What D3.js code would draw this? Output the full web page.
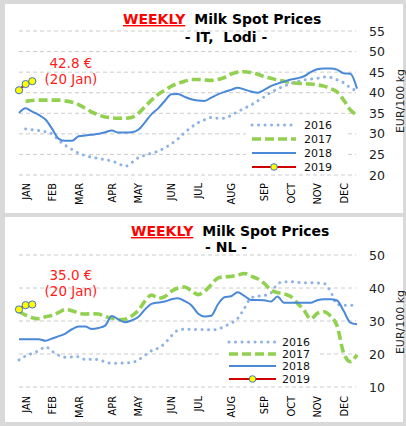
<!DOCTYPE html>
<html>
<head>
<meta charset="utf-8">
<script src="https://cdn.jsdelivr.net/npm/d3@7"></script>
<style>
  body { margin: 0; background: #d9d9d9; }
  svg { display: block; font-family: "DejaVu Sans", Verdana, sans-serif; }
</style>
</head>
<body>
<svg id="chart" width="406" height="426"></svg>
<script>
// data (EUR/100 kg, week 1..52)
const years = ["2016", "2017", "2018", "2019"];
const monthLabels = ["JAN", "FEB", "MAR", "APR", "MAY", "JUN", "JUL", "AUG", "SEP", "OCT", "NOV", "DEC"];
const monthWeeks = [2, 6, 10, 15, 19, 24, 28, 33, 38, 42, 46, 50];

const itTicks = [20, 25, 30, 35, 40, 45, 50, 55];
const nlTicks = [10, 20, 30, 40, 50];

const it2016 = [null, 31.2, 31.0, 30.8, 30.5, 30.0, 28.4, 27.2, 26.2, 25.3,
  24.7, 24.3, 24.0, 23.7, 23.4, 22.8, 22.1, 23.0, 24.2, 24.8,
  25.3, 25.8, 26.6, 27.6, 28.8, 30.3, 31.6, 32.7, 33.4, 34.0,
  33.8, 33.8, 34.5, 35.4, 36.2, 37.0, 38.0, 39.0, 40.1, 40.9,
  41.6, 42.2, 42.7, 43.1, 43.3, 43.5, 43.8, 43.7, 43.1, 42.4, 41.2, 40.4];
const it2017 = [null, 37.9, 38.1, 38.2, 38.2, 38.2, 38.2, 38.0, 37.7, 37.1,
  36.2, 35.3, 34.6, 34.1, 33.9, 33.8, 33.8, 34.0, 35.0, 36.6,
  38.2, 39.6, 40.6, 41.6, 42.3, 42.8, 43.2, 43.2, 43.1, 43.0,
  43.2, 43.7, 44.5, 45.0, 45.1, 44.9, 44.5, 43.9, 43.5, 43.1,
  42.8, 42.5, 42.3, 42.2, 42.1, 41.9, 41.6, 41.0, 40.2, 38.2, 35.8, 34.6];
const it2018 = [35.1, 36.2, 35.4, 34.6, 33.5, 31.2, 28.8, 28.3, 28.3, 29.4,
  29.6, 29.8, 30.0, 30.4, 30.8, 30.3, 30.3, 30.4, 31.0, 32.8,
  34.8, 36.2, 38.0, 39.6, 39.7, 39.0, 38.4, 38.1, 38.0, 38.8,
  39.6, 40.2, 40.7, 41.2, 40.8, 40.3, 40.0, 40.7, 41.6, 42.2,
  42.7, 43.2, 43.5, 44.0, 45.0, 45.7, 45.9, 45.9, 45.6, 44.7, 44.6, 41.0];
const it2019 = [40.6, 42.1, 42.8];

const nl2016 = [18.2, 19.4, 20.2, 21.0, 22.2, 20.8, 19.6, 19.0, 19.1, 19.2,
  18.3, 18.4, 18.3, 17.6, 17.2, 17.2, 17.3, 17.4, 18.2, 19.6,
  21.0, 21.8, 23.2, 25.5, 27.2, 27.5, 27.5, 27.4, 27.4, 27.3,
  27.5, 28.4, 29.3, 30.8, 33.8, 37.0, 37.5, 37.7, 38.5, 41.2,
  41.9, 41.9, 41.7, 41.6, 41.6, 41.5, 41.4, 39.0, 35.0, 34.8, 34.8, 34.8];
const nl2017 = [32.8, 31.8, 31.0, 30.7, 31.3, 31.7, 32.6, 33.5, 33.1, 32.4,
  32.1, 32.2, 32.1, 31.3, 30.9, 30.4, 30.5, 31.5, 33.2, 36.0,
  37.9, 36.9, 37.4, 39.0, 40.0, 40.3, 39.2, 38.0, 39.0, 41.0,
  43.0, 43.4, 43.5, 43.9, 44.4, 43.6, 42.8, 41.4, 39.4, 38.6,
  38.2, 37.4, 35.4, 33.3, 30.6, 32.3, 32.8, 31.5, 28.5, 20.2, 17.7, 19.8];
const nl2018 = [24.5, 24.5, 24.5, 24.5, 24.0, 24.7, 25.4, 26.2, 27.5, 28.3,
  28.3, 27.6, 27.9, 28.6, 31.5, 30.5, 29.6, 30.2, 31.2, 33.5,
  35.2, 35.6, 35.9, 36.6, 36.9, 36.0, 34.8, 32.3, 31.4, 31.6,
  35.0, 37.2, 37.5, 38.7, 37.6, 36.4, 36.4, 36.3, 35.9, 37.4,
  35.5, 35.5, 35.5, 35.5, 35.5, 36.3, 36.6, 36.6, 36.2, 33.0, 29.5, 29.0];
const nl2019 = [33.5, 34.8, 35.0];

const colors = { "2016": "#8fb4e3", "2017": "#92d050", "2018": "#4a88d8", "2019": "#d00000" };

const panels = [
  {
    top: 4, height: 209, sub: "- IT,  Lodi -", titleY: 24, subY: 41.5, titleX: 123,
    ticks: itTicks, domain: [20, 55], range: [175, 31], axisY: 183,
    series: [it2016, it2017, it2018, it2019],
    note: ["42.8 €", "(20 Jan)"], noteY: [68, 84],
    legend: { x0: 252, x1: 296, tx: 304, rows: [125, 139, 153, 167], box: [246, 116, 100, 57] },
    yTitle: 101
  },
  {
    top: 217, height: 205, sub: "- NL -", titleY: 236, subY: 252, titleX: 131,
    ticks: nlTicks, domain: [10, 50], range: [387, 255], axisY: 396,
    series: [nl2016, nl2017, nl2018, nl2019],
    note: ["35.0 €", "(20 Jan)"], noteY: [280, 296],
    legend: { x0: 229, x1: 276, tx: 282, rows: [342, 354, 366, 379], box: [222, 334, 97, 50] },
    yTitle: 322
  }
];

const svg = d3.select("#chart");
const x = d3.scaleLinear().domain([1, 52]).range([19, 357]);

function styleLine(sel, year) {
  sel.attr("fill", "none").attr("stroke", colors[year]);
  if (year === "2016") sel.attr("stroke-width", 3).attr("stroke-dasharray", "0.1,6.4").attr("stroke-linecap", "round");
  else if (year === "2017") sel.attr("stroke-width", 3.6).attr("stroke-dasharray", "9,4");
  else sel.attr("stroke-width", 2);
}

for (const p of panels) {
  const g = svg.append("g");
  g.append("rect").attr("x", 5).attr("y", p.top).attr("width", 398).attr("height", p.height).attr("fill", "#fff");

  const y = d3.scaleLinear().domain(p.domain).range(p.range);

  // grid
  g.append("g").selectAll("line").data(p.ticks).join("line")
    .attr("x1", 19).attr("x2", 356)
    .attr("y1", d => y(d)).attr("y2", d => y(d))
    .attr("stroke", "#cccccc").attr("stroke-dasharray", "4,3");

  // y labels
  g.append("g").attr("transform", "translate(369,0)")
    .call(d3.axisRight(y).tickValues(p.ticks).tickSize(0).tickPadding(0))
    .call(a => a.select(".domain").remove())
    .attr("font-family", null).attr("font-size", 12.5)
    .selectAll("text").attr("fill", "#222");

  g.append("text").attr("transform", `translate(404,${p.yTitle}) rotate(-90)`)
    .attr("text-anchor", "middle").attr("font-size", 11).attr("fill", "#222").text("EUR/100 kg");

  // month labels
  g.append("g").attr("transform", `translate(0,${p.axisY})`)
    .call(d3.axisBottom(x).tickValues(monthWeeks).tickFormat((d, i) => monthLabels[i]).tickSize(0))
    .call(a => a.select(".domain").remove())
    .attr("font-family", null).attr("font-size", 9.8)
    .selectAll("text")
    .attr("transform", "rotate(-90)").attr("text-anchor", "end")
    .attr("x", 0).attr("y", 0).attr("dy", "0.35em").attr("fill", "#000");

  // title
  const t = g.append("text").attr("y", p.titleY).attr("font-size", 14).attr("font-weight", "bold");
  t.append("tspan").attr("x", p.titleX).attr("fill", "#ff0000").attr("text-decoration", "underline").text("WEEKLY");
  t.append("tspan").attr("dx", 9).attr("fill", "#000").text("Milk Spot Prices");
  g.append("text").attr("x", 226).attr("y", p.subY).attr("text-anchor", "middle")
    .attr("font-size", 14).attr("font-weight", "bold").attr("xml:space", "preserve").text(p.sub);

  // series
  const line = d3.line().defined(d => d != null).x((d, i) => x(i + 1)).y(d => y(d)).curve(d3.curveMonotoneX);
  p.series.forEach((vals, k) => {
    g.append("path").datum(vals).attr("d", line).call(styleLine, years[k]);
  });
  const last = p.series[3];
  g.append("g").selectAll("circle").data(last).join("circle")
    .attr("cx", (d, i) => x(i + 1)).attr("cy", d => y(d)).attr("r", 3.6)
    .attr("fill", "#ffff00").attr("stroke", "#4472c4").attr("stroke-width", 1);

  // annotation
  g.append("g").selectAll("text").data(p.note).join("text")
    .attr("x", 71).attr("y", (d, i) => p.noteY[i]).attr("text-anchor", "middle")
    .attr("font-size", 13.5).attr("fill", "#ff1a1a").text(d => d);

  // legend
  const L = p.legend;
  g.append("rect").attr("x", L.box[0]).attr("y", L.box[1]).attr("width", L.box[2]).attr("height", L.box[3]).attr("fill", "#fff");
  years.forEach((yr, k) => {
    const ly = L.rows[k];
    g.append("line").attr("x1", L.x0).attr("x2", L.x1).attr("y1", ly).attr("y2", ly).call(styleLine, yr);
    if (yr === "2019") {
      g.append("circle").attr("cx", (L.x0 + L.x1) / 2).attr("cy", ly).attr("r", 3.3)
        .attr("fill", "#ffff00").attr("stroke", "#4472c4").attr("stroke-width", 1);
    }
    g.append("text").attr("x", L.tx).attr("y", ly).attr("dy", "0.36em")
      .attr("font-size", 11).attr("fill", "#111").text(yr);
  });
}
</script>
</body>
</html>
